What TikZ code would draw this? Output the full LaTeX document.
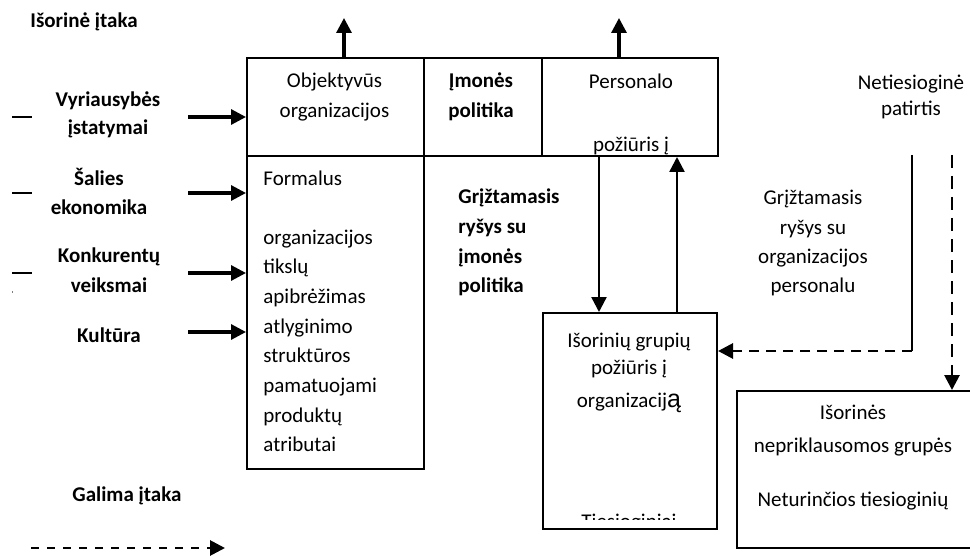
\documentclass[tikz,border=0pt]{standalone}
\usepackage{fontspec}
\setmainfont{Carlito}
\newfontfamily\widefont{Liberation Sans}
\usetikzlibrary{arrows.meta}

\begin{document}
\begin{tikzpicture}[x=0.5pt,y=-0.5pt,
  box/.style={draw, line width=1pt, inner sep=0pt, anchor=north west},
  lbl/.style={inner sep=0pt, text width=#1, align=flush center, anchor=base,
    font=\fontsize{10.5}{15}\selectfont},
  lbl/.default=110pt,
  lblb/.style={lbl=#1, font=\fontsize{10.5}{15}\selectfont\bfseries},
  lblb/.default=110pt,
  leftlbl/.style={lbl=110pt, align=flush left, anchor=base west},
  tip/.style={-{Triangle[length=7.5pt,width=7.5pt]}},
  arr/.style={tip, line width=1.6pt},
  arrthin/.style={tip, line width=1.2pt},
  dsh/.style={tip, line width=1.4pt, dash pattern=on 5pt off 3.5pt},
  tick/.style={line width=1pt}
]
\useasboundingbox (0,0) rectangle (970,556);
\clip (0,0) rectangle (970,556);

% --- boxes ---
\node[box, minimum width=88.5pt, minimum height=49pt] (obj) at (246,57) {};
\node[box, minimum width=59pt, minimum height=49pt] (pol) at (423,57) {};
\node[box, minimum width=88pt, minimum height=49pt] (pers) at (541,57) {};
\node[box, minimum width=88.5pt, minimum height=156.5pt] (form) at (246,155) {};
\node[box, minimum width=87pt, minimum height=108pt] (isg) at (542,312) {};
\node[box, minimum width=125pt, minimum height=78.5pt] (isn) at (736,390) {};

% --- box texts ---
\node[lbl=85pt] (tObj) at (334.5,88) {Objektyvūs\\organizacijos};
\node[lblb=58pt] (tPol) at (481,88) {Įmonės\\politika};
\node[lbl=85pt] (tPers) at (631,89) {Personalo\\[16.5pt]požiūris į};
\node[leftlbl, font=\fontsize{10.5}{14.83}\selectfont] (tForm) at (263,185)
  {Formalus\\[14.83pt]organizacijos\\tikslų\\apibrėžimas\\atlyginimo\\struktūros\\pamatuojami\\produktų\\atributai};
\node[lbl=85pt] (tIsg) at (629,347)
  {Išorinių grupių\\[-1.5pt]požiūris į\\[1.5pt]organizacij{\widefont\fontsize{12.5}{15}\selectfont ą}};
\node[lbl=118pt] (tIsn) at (853,419)
  {Išorinės\\[1.5pt]nepriklausomos grupės\\[12pt]Neturinčios tiesioginių};
\begin{scope}
  \clip (542,500) rectangle (716,519.5);
  \node[lbl=85pt] (tTies) at (629,528) {Tiesioginiai};
\end{scope}

% --- free labels ---
\node[leftlbl, font=\fontsize{10.5}{15}\selectfont\bfseries] (tOut) at (30,28) {Išorinė įtaka};
\node[lblb, font=\fontsize{10.5}{14}\selectfont\bfseries] (tGov) at (108,107) {Vyriausybės\\įstatymai};
\node[lblb, font=\fontsize{10.5}{14.5}\selectfont\bfseries] (tEco) at (99,185) {Šalies\\ekonomika};
\node[lblb] (tCmp) at (109,263) {Konkurentų\\veiksmai};
\node[lblb] (tCul) at (109,342) {Kultūra};
\node[leftlbl, font=\fontsize{10.5}{15}\selectfont\bfseries] (tPos) at (72,501) {Galima įtaka};
\node[leftlbl, font=\fontsize{10.5}{14.83}\selectfont\bfseries] (tFbp) at (458,204)
  {Grįžtamasis\\ryšys su\\įmonės\\politika};
\node[lbl, font=\fontsize{10.5}{14.65}\selectfont] (tFbs) at (813,205)
  {Grįžtamasis\\ryšys su\\organizacijos\\personalu};
\node[lbl, font=\fontsize{10.5}{13}\selectfont] (tInd) at (911,90) {Netiesioginė\\patirtis};

% --- upward outputs ---
\coordinate (objTop) at (344,18);
\coordinate (persTop) at (619,18);
\draw[arr] (obj.north -| objTop) -- (objTop);
\draw[arr] (pers.north -| persTop) -- (persTop);

% --- external influences ---
\coordinate (inGov) at (188,117);
\coordinate (inEco) at (188,193);
\coordinate (inCmp) at (188,273);
\coordinate (inCul) at (188,332);
\draw[arr] (inGov) -- (obj.west |- inGov);
\draw[arr] (inEco) -- (form.west |- inEco);
\draw[arr] (inCmp) -- (form.west |- inCmp);
\draw[arr] (inCul) -- (form.west |- inCul);

% short marks at the left margin
\coordinate (m1a) at (12,117); \coordinate (m1b) at (32,117);
\coordinate (m2a) at (12,193); \coordinate (m2b) at (32,193);
\coordinate (m3a) at (12,273); \coordinate (m3b) at (32,273);
\draw[tick] (m1a) -- (m1b);
\draw[tick] (m2a) -- (m2b);
\draw[tick] (m3a) -- (m3b);
\fill[gray] (11.5,291) rectangle (13,293);

% --- personnel <-> external groups ---
\coordinate (dnX) at (599,0);
\coordinate (upX) at (677,0);
\draw[arrthin] (pers.south -| dnX) -- (isg.north -| dnX);
\draw[arrthin] (isg.north -| upX) -- (pers.south -| upX);

% --- indirect experience ---
\coordinate (fbTop) at (912,155);
\coordinate (fbTurn) at (912,351);
\draw[line width=1pt] (fbTop) -- (fbTurn);
\draw[dsh] (fbTurn) -- (isg.east |- fbTurn);
\coordinate (indTop) at (952,155);
\draw[dsh, dash pattern=on 6.5pt off 4pt] (indTop) -- (isn.north -| indTop);

% --- legend ---
\coordinate (lgA) at (31,548);
\coordinate (lgB) at (225,548);
\draw[dsh, dash pattern=on 4pt off 4pt] (lgA) -- (lgB);
\end{tikzpicture}
\end{document}
